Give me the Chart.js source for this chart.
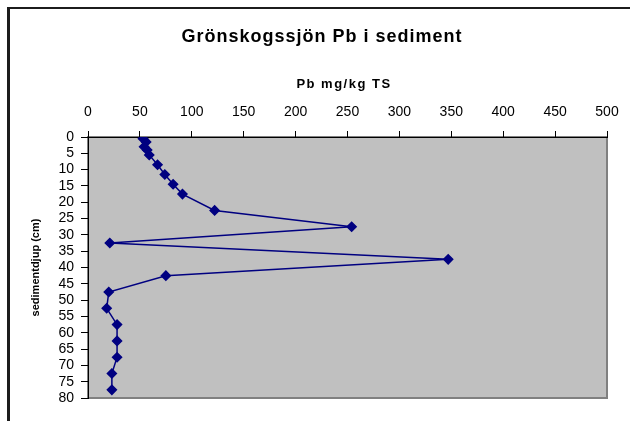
<!DOCTYPE html>
<html>
<head>
<meta charset="utf-8">
<script src="https://cdn.jsdelivr.net/npm/chart.js@4.4.0/dist/chart.umd.min.js"></script>
<style>
  html, body { margin: 0; padding: 0; background: #fff; overflow: hidden; }
  #wrap { position: relative; width: 630px; height: 421px; }
  #frame {
    position: absolute; left: 7px; top: 7px; width: 700px; height: 500px;
    border-left: 3px solid #1c1c1c; border-top: 2px solid #1c1c1c;
    pointer-events: none;
  }
  canvas { position: absolute; left: 0; top: 0; }
</style>
</head>
<body>
<div id="wrap">
  <canvas id="pbChart" width="630" height="421"></canvas>
  <div id="frame"></div>
</div>
<script>
// Pb-halt (mg/kg TS) per provdjup i sedimentkärnan
const depths = [0.5, 1.5, 3, 4, 5.5, 8.5, 11.5, 14.5, 17.5, 22.5, 27.5, 32.5, 37.5, 42.5, 47.5, 52.5, 57.5, 62.5, 67.5, 72.5, 77.5];
const pbValues = [53, 56, 54, 57, 59, 67, 74, 82, 91, 122, 254, 21, 347, 75, 20, 18, 28, 28, 28, 23, 23];
const xTicks = [0, 50, 100, 150, 200, 250, 300, 350, 400, 450, 500];
const yTicks = [0, 5, 10, 15, 20, 25, 30, 35, 40, 45, 50, 55, 60, 65, 70, 75, 80];
const chartTitle = 'Grönskogssjön Pb i sediment';
const xTitle = 'Pb mg/kg TS';

const points = pbValues.map((v, i) => ({ x: v, y: depths[i] }));
const fontFamily = '"Liberation Sans", Arial, sans-serif';

// grå bakgrund i diagramytan med grå ram till höger och nedtill
const plotArea = {
    id: 'plotArea',
    beforeDraw(chart) {
        const { ctx, chartArea: a } = chart;
        ctx.save();
        ctx.fillStyle = '#c0c0c0';
        ctx.fillRect(a.left, a.top, a.right - a.left, a.bottom - a.top);
        ctx.strokeStyle = '#808080';
        ctx.lineWidth = 2;
        ctx.strokeRect(a.left, a.top, a.right - a.left, a.bottom - a.top);
        ctx.restore();
    }
};

// rubrik och x-axelns titel, med lite spärrad text
const headings = {
    id: 'headings',
    afterDraw(chart) {
        const { ctx } = chart;
        ctx.save();
        ctx.fillStyle = '#000';
        ctx.textAlign = 'center';
        ctx.textBaseline = 'middle';
        ctx.letterSpacing = '1px';
        ctx.font = 'bold 18px ' + fontFamily;
        ctx.fillText(chartTitle, 322, 37);
        ctx.letterSpacing = '1.5px';
        ctx.font = 'bold 13px ' + fontFamily;
        ctx.fillText(xTitle, 344, 84);
        ctx.restore();
    }
};

Chart.defaults.font.family = fontFamily;
Chart.defaults.color = '#000';

new Chart(document.getElementById('pbChart').getContext('2d'), {
    type: 'scatter',
    data: {
        datasets: [{
            data: points,
            showLine: true,
            borderColor: '#000080',
            backgroundColor: '#000080',
            borderWidth: 1.5,
            pointStyle: 'rectRot',
            pointRadius: 4.5,
            pointHoverRadius: 4.5
        }]
    },
    options: {
        responsive: false,
        animation: false,
        layout: { padding: { left: 0, right: 23, top: 0, bottom: 23 } },
        plugins: {
            legend: { display: false },
            tooltip: { enabled: false },
            title: { display: false }
        },
        scales: {
            x: {
                type: 'linear',
                position: 'top',
                min: 0,
                max: 500,
                afterBuildTicks: s => { s.ticks = xTicks.map(v => ({ value: v })); },
                afterFit: s => { s.height = 137; },
                ticks: { font: { size: 14 }, padding: 10, maxRotation: 0 },
                grid: { drawOnChartArea: false, drawTicks: true, tickLength: 6, color: '#000' },
                border: { color: '#000', width: 1 }
            },
            y: {
                type: 'linear',
                position: 'left',
                reverse: true,
                min: 0,
                max: 80,
                afterBuildTicks: s => { s.ticks = yTicks.map(v => ({ value: v })); },
                afterFit: s => { s.width = 88; },
                ticks: { font: { size: 14 }, padding: 7, autoSkip: false },
                grid: { drawOnChartArea: false, drawTicks: true, tickLength: 7, color: '#000' },
                border: { color: '#000', width: 1 },
                title: {
                    display: true,
                    text: 'sedimentdjup (cm)',
                    font: { size: 11, weight: 'bold' },
                    padding: { top: 29, bottom: 0 }
                }
            }
        }
    },
    plugins: [plotArea, headings]
});
</script>
</body>
</html>
